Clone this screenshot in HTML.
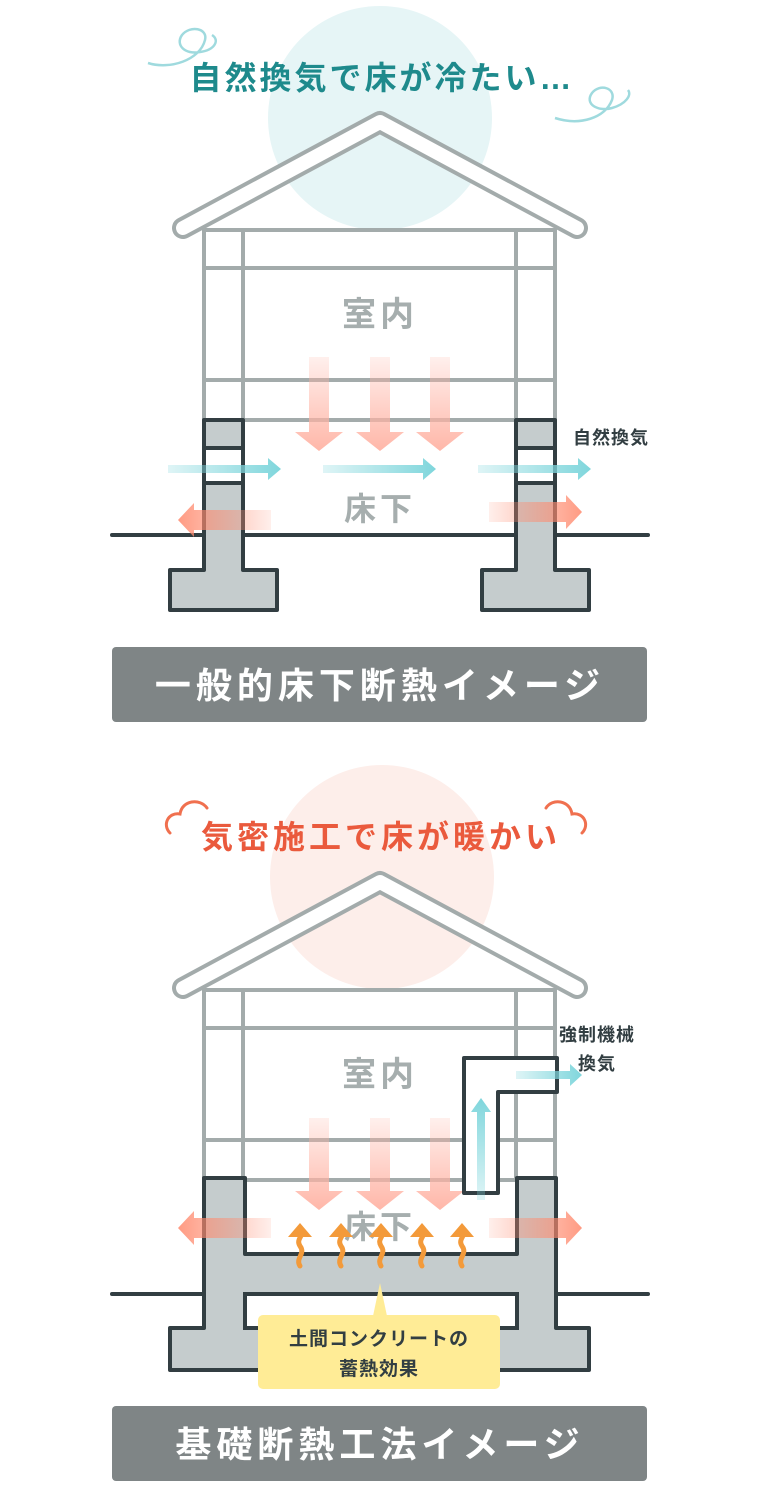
<!DOCTYPE html>
<html><head><meta charset="utf-8"><style>
html,body{margin:0;padding:0;background:#fff;}
svg{display:block;}
text{font-family:"Liberation Sans","Noto Sans CJK JP",sans-serif;}
</style></head><body>
<svg width="757" height="1492" viewBox="0 0 757 1492" xmlns="http://www.w3.org/2000/svg">
<defs>
<linearGradient id="cy" x1="0" x2="1" y1="0" y2="0"><stop offset="0" stop-color="#7fd6dc" stop-opacity="0.25"/><stop offset="1" stop-color="#7fd6dc"/></linearGradient>
<linearGradient id="cyu" x1="0" x2="0" y1="1" y2="0"><stop offset="0" stop-color="#7fd6dc" stop-opacity="0.25"/><stop offset="1" stop-color="#7fd6dc"/></linearGradient>
<linearGradient id="rdR" x1="0" x2="1" y1="0" y2="0"><stop offset="0" stop-color="#ff8a6e" stop-opacity="0.15"/><stop offset="1" stop-color="#ff8a6e" stop-opacity="0.95"/></linearGradient>
<linearGradient id="rdL" x1="1" x2="0" y1="0" y2="0"><stop offset="0" stop-color="#ff8a6e" stop-opacity="0.15"/><stop offset="1" stop-color="#ff8a6e" stop-opacity="0.95"/></linearGradient>
<linearGradient id="rdD" x1="0" x2="0" y1="0" y2="1"><stop offset="0" stop-color="#ffb3a4" stop-opacity="0.2"/><stop offset="1" stop-color="#ffb3a4" stop-opacity="0.95"/></linearGradient>
</defs>

<!-- ============ TOP ============ -->
<circle cx="380" cy="118" r="112" fill="#e6f5f6"/>
<path d="M148 63 C170 70 200 60 205 40 C208 28 190 25 182 35 C175 45 185 55 200 52 C215 50 220 40 212 35" fill="none" stroke="#9fdade" stroke-width="2.5"/>
<path d="M555 118 C580 126 605 118 612 100 C616 88 600 83 592 93 C584 104 598 112 612 108 C626 104 632 95 628 90" fill="none" stroke="#9fdade" stroke-width="2.5"/>
<text x="382" y="89" text-anchor="middle" font-size="32" font-weight="bold" fill="#1e8a8c" letter-spacing="3">自然換気で床が冷たい…</text>

<g stroke="#a3abab" stroke-width="4" fill="none">
<line x1="204" y1="228" x2="204" y2="420"/><line x1="243" y1="228" x2="243" y2="420"/>
<line x1="516" y1="228" x2="516" y2="420"/><line x1="555" y1="228" x2="555" y2="420"/>
<line x1="204" y1="230" x2="555" y2="230"/><line x1="204" y1="268" x2="555" y2="268"/>
<line x1="204" y1="380" x2="555" y2="380"/><line x1="204" y1="420" x2="555" y2="420"/>
</g>
<polyline points="183,228 380,122 577,228" fill="none" stroke="#a3abab" stroke-width="22" stroke-linecap="round" stroke-linejoin="round"/>
<polyline points="183,228 380,122 577,228" fill="none" stroke="#fff" stroke-width="14" stroke-linecap="round" stroke-linejoin="round"/>

<text x="380" y="326" text-anchor="middle" font-size="34" font-weight="bold" fill="#a6aeae" letter-spacing="4">室内</text>

<g fill="url(#rdD)">
<path d="M309 357h20v75h14l-24 19-24-19h14z"/>
<path d="M370 357h20v75h14l-24 19-24-19h14z"/>
<path d="M430 357h20v75h14l-24 19-24-19h14z"/>
</g>

<g stroke="#323e42" stroke-width="4" fill="#c5cccd" stroke-linejoin="round">
<path d="M204 420H243V570H277V610H170V570H204Z"/>
<rect x="204" y="448" width="39" height="35" fill="#fff"/>
<path d="M516 420H555V570H589V610H482V570H516Z"/>
<rect x="516" y="448" width="39" height="35" fill="#fff"/>
</g>
<g stroke="#323e42" stroke-width="4" stroke-linecap="round">
<line x1="112" y1="535" x2="204" y2="535"/><line x1="243" y1="535" x2="516" y2="535"/><line x1="555" y1="535" x2="648" y2="535"/>
</g>

<text x="380" y="520" text-anchor="middle" font-size="32" font-weight="bold" fill="#a6aeae" letter-spacing="4">床下</text>

<g fill="url(#cy)">
<path d="M168 465h100v-7l13 11-13 11v-7h-100z"/>
<path d="M323 465h100v-7l13 11-13 11v-7h-100z"/>
<path d="M478 465h100v-7l13 11-13 11v-7h-100z"/>
</g>
<text x="573" y="444" font-size="18" font-weight="bold" fill="#323e42" letter-spacing="1">自然換気</text>

<path d="M271 510H194V503L178 520L194 537V530H271Z" fill="url(#rdL)" opacity="0.9"/>
<path d="M489 502H566V495L582 512L566 529V522H489Z" fill="url(#rdR)" opacity="0.9"/>

<rect x="112" y="647" width="535" height="75" rx="4" fill="#7f8586"/>
<text x="380" y="698" text-anchor="middle" font-size="36" font-weight="bold" fill="#fff" letter-spacing="5">一般的床下断熱イメージ</text>

<!-- ============ BOTTOM ============ -->
<circle cx="382" cy="877" r="112" fill="#fdeeea"/>
<path d="M170 833 C162 825 168 812 180 814 C182 800 200 798 207 808" fill="none" stroke="#f0704f" stroke-width="3" stroke-linecap="round"/>
<path d="M546 808 C552 798 570 800 572 814 C584 812 590 825 582 833" fill="none" stroke="#f0704f" stroke-width="3" stroke-linecap="round"/>
<text x="381" y="848" text-anchor="middle" font-size="32" font-weight="bold" fill="#ea5a3d" letter-spacing="4">気密施工で床が暖かい</text>

<g stroke="#a3abab" stroke-width="4" fill="none">
<line x1="204" y1="988" x2="204" y2="1180"/><line x1="243" y1="988" x2="243" y2="1180"/>
<line x1="516" y1="988" x2="516" y2="1180"/><line x1="555" y1="988" x2="555" y2="1180"/>
<line x1="204" y1="990" x2="555" y2="990"/><line x1="204" y1="1028" x2="555" y2="1028"/>
<line x1="204" y1="1140" x2="555" y2="1140"/><line x1="204" y1="1180" x2="555" y2="1180"/>
</g>
<polyline points="183,988 380,882 577,988" fill="none" stroke="#a3abab" stroke-width="22" stroke-linecap="round" stroke-linejoin="round"/>
<polyline points="183,988 380,882 577,988" fill="none" stroke="#fff" stroke-width="14" stroke-linecap="round" stroke-linejoin="round"/>

<text x="380" y="1086" text-anchor="middle" font-size="34" font-weight="bold" fill="#a6aeae" letter-spacing="4">室内</text>

<g fill="url(#rdD)">
<path d="M309 1118h20v73h14l-24 19-24-19h14z"/>
<path d="M370 1118h20v73h14l-24 19-24-19h14z"/>
<path d="M430 1118h20v73h14l-24 19-24-19h14z"/>
</g>

<path d="M464 1193V1058H557V1092H498V1193Z" fill="#fff" stroke="#323e42" stroke-width="4" stroke-linejoin="round"/>
<path d="M477 1200V1112h-6l10-14 10 14h-6v88z" fill="url(#cyu)"/>
<path d="M516 1071h54v-7l12 11-12 11v-7h-54z" fill="url(#cy)"/>
<text x="597" y="1041" text-anchor="middle" font-size="18" font-weight="bold" fill="#323e42" letter-spacing="1">強制機械</text>
<text x="597" y="1070" text-anchor="middle" font-size="18" font-weight="bold" fill="#323e42" letter-spacing="1">換気</text>

<path d="M204 1178H245V1254H517V1178H556V1328H589V1370H170V1328H204Z" fill="#c5cccd" stroke="#323e42" stroke-width="4" stroke-linejoin="round"/>
<rect x="245" y="1294" width="272" height="34" fill="#fff" stroke="#323e42" stroke-width="4"/>
<g stroke="#323e42" stroke-width="4" stroke-linecap="round">
<line x1="112" y1="1294" x2="204" y2="1294"/><line x1="556" y1="1294" x2="648" y2="1294"/>
</g>

<text x="380" y="1238" text-anchor="middle" font-size="32" font-weight="bold" fill="#a6aeae" letter-spacing="4">床下</text>

<path d="M271 1218H194V1211L178 1228L194 1245V1238H271Z" fill="url(#rdL)" opacity="0.9"/>
<path d="M489 1218H566V1211L582 1228L566 1245V1238H489Z" fill="url(#rdR)" opacity="0.9"/>

<g fill="none" stroke="#f39a3a" stroke-width="5" stroke-linecap="round">
<path d="M300 1266c-5-8 6-12 0-20c-5-8 6-10 0-18"/>
<path d="M341 1266c-5-8 6-12 0-20c-5-8 6-10 0-18"/>
<path d="M381 1266c-5-8 6-12 0-20c-5-8 6-10 0-18"/>
<path d="M422 1266c-5-8 6-12 0-20c-5-8 6-10 0-18"/>
<path d="M462 1266c-5-8 6-12 0-20c-5-8 6-10 0-18"/>
</g>
<g fill="#f39a3a">
<path d="M288 1237l12-14 12 14z"/><path d="M329 1237l12-14 12 14z"/><path d="M369 1237l12-14 12 14z"/><path d="M410 1237l12-14 12 14z"/><path d="M450 1237l12-14 12 14z"/>
</g>

<path d="M373 1316L380 1283L387 1316Z" fill="#ffec96"/>
<rect x="258" y="1315" width="242" height="74" rx="5" fill="#ffec96"/>
<text x="379" y="1345" text-anchor="middle" font-size="19" font-weight="bold" fill="#323e42" letter-spacing="1">土間コンクリートの</text>
<text x="379" y="1375" text-anchor="middle" font-size="19" font-weight="bold" fill="#323e42" letter-spacing="1">蓄熱効果</text>

<rect x="112" y="1406" width="535" height="75" rx="4" fill="#7f8586"/>
<text x="380" y="1457" text-anchor="middle" font-size="36" font-weight="bold" fill="#fff" letter-spacing="5">基礎断熱工法イメージ</text>
</svg>
</body></html>
